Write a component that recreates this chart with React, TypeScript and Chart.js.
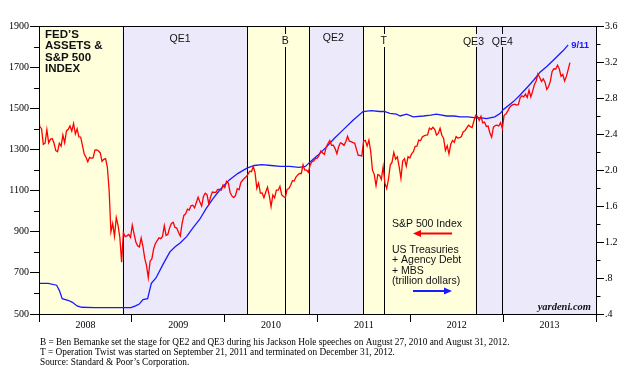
import React, { useEffect, useRef } from 'react';
import { Chart, registerables } from 'chart.js';

Chart.register(...registerables);

// ---------- DATA ----------
// S&P 500 weekly closes, first Friday = Dec 28, 2007
const spStart = [1478];
const sp2008 = [1411, 1401, 1325, 1331, 1396, 1332, 1349, 1353, 1331, 1294, 1289, 1330, 1316, 1370, 1332, 1390, 1398, 1414, 1389, 1426, 1375, 1400, 1361, 1360, 1318, 1278, 1262, 1240, 1261, 1257, 1260, 1297, 1298, 1292, 1283, 1242, 1252, 1255, 1213, 1099, 899, 940, 877, 969, 931, 873, 752, 896, 876, 880, 887, 873];
const sp2009 = [932, 890, 850, 832, 826, 869, 827, 770, 735, 677, 757, 768, 816, 843, 857, 870, 866, 877, 929, 882, 887, 919, 940, 946, 921, 918, 896, 879, 940, 979, 987, 1010, 1005, 1026, 1029, 1016, 1042, 1068, 1044, 1025, 1071, 1087, 1080, 1036, 1069, 1093, 1091, 1091, 1106, 1106, 1102, 1127];
const sp2010 = [1115, 1145, 1136, 1091, 1074, 1066, 1075, 1109, 1104, 1139, 1150, 1160, 1167, 1179, 1194, 1192, 1217, 1187, 1111, 1136, 1088, 1089, 1065, 1092, 1117, 1076, 1022, 1078, 1065, 1102, 1102, 1121, 1079, 1071, 1065, 1105, 1110, 1126, 1148, 1146, 1166, 1176, 1183, 1183, 1225, 1199, 1199, 1189, 1225, 1240, 1244, 1256, 1258];
const sp2011 = [1272, 1293, 1283, 1276, 1311, 1329, 1343, 1320, 1321, 1304, 1279, 1313, 1332, 1328, 1320, 1337, 1364, 1340, 1338, 1333, 1331, 1300, 1271, 1271, 1268, 1340, 1344, 1316, 1345, 1292, 1199, 1179, 1124, 1177, 1174, 1154, 1216, 1136, 1110, 1155, 1224, 1238, 1285, 1253, 1264, 1216, 1159, 1244, 1255, 1219, 1265, 1258];
const sp2012 = [1278, 1289, 1315, 1316, 1345, 1342, 1361, 1366, 1370, 1371, 1404, 1397, 1408, 1398, 1370, 1378, 1403, 1369, 1353, 1295, 1318, 1278, 1325, 1343, 1335, 1362, 1355, 1357, 1363, 1386, 1391, 1405, 1418, 1411, 1406, 1438, 1466, 1460, 1441, 1461, 1429, 1433, 1412, 1414, 1380, 1359, 1409, 1416, 1418, 1414, 1430, 1402];
const sp2013 = [1466, 1472, 1486, 1503, 1513, 1518, 1520, 1516, 1518, 1551, 1561, 1556, 1569, 1553, 1588, 1555, 1582, 1614, 1633, 1667, 1650, 1631, 1643, 1626, 1592, 1606, 1632, 1680, 1692, 1691, 1709, 1691, 1656, 1664, 1633, 1655, 1688, 1722];
const spFirstWeek = 2007 + 361 / 365; // Dec 28, 2007 as decimal year

// Fed holdings: US Treasuries + Agency Debt + MBS (trillion dollars)
const fedDates = [2008.00, 2008.10, 2008.19, 2008.22, 2008.25, 2008.32, 2008.36, 2008.41, 2008.46, 2008.60, 2008.80, 2008.99, 2009.04, 2009.08, 2009.12, 2009.17, 2009.21, 2009.26, 2009.34, 2009.41, 2009.47, 2009.52, 2009.59, 2009.66, 2009.73, 2009.80, 2009.88, 2009.95, 2010.05, 2010.14, 2010.24, 2010.32, 2010.40, 2010.50, 2010.60, 2010.70, 2010.80, 2010.87, 2010.92, 2011.00, 2011.10, 2011.18, 2011.27, 2011.38, 2011.49, 2011.58, 2011.67, 2011.72, 2011.78, 2011.85, 2011.89, 2011.96, 2012.03, 2012.14, 2012.22, 2012.28, 2012.39, 2012.47, 2012.54, 2012.62, 2012.71, 2012.77, 2012.82, 2012.91, 2012.97, 2013.00, 2013.06, 2013.11, 2013.18, 2013.26, 2013.33, 2013.40, 2013.47, 2013.54, 2013.60, 2013.65, 2013.70];
const fedVals = [0.74, 0.74, 0.72, 0.66, 0.57, 0.55, 0.53, 0.49, 0.475, 0.47, 0.47, 0.47, 0.49, 0.51, 0.56, 0.57, 0.74, 0.80, 0.96, 1.09, 1.15, 1.19, 1.26, 1.36, 1.45, 1.57, 1.69, 1.78, 1.89, 1.96, 2.02, 2.05, 2.06, 2.05, 2.04, 2.04, 2.03, 2.04, 2.09, 2.16, 2.26, 2.35, 2.44, 2.55, 2.65, 2.66, 2.65, 2.65, 2.63, 2.62, 2.60, 2.62, 2.59, 2.60, 2.61, 2.62, 2.60, 2.60, 2.59, 2.59, 2.58, 2.58, 2.57, 2.59, 2.63, 2.67, 2.72, 2.76, 2.83, 2.92, 3.00, 3.09, 3.15, 3.22, 3.28, 3.33, 3.39];
const fedLastLabel = '9/11';

// Policy events (decimal years)
const eventDates = [2008.90, 2010.24, 2010.652, 2010.913, 2011.49, 2011.714, 2012.703, 2012.99];
const eventLabels = ['QE1', 'B', 'QE2', 'T', 'QE3', 'QE4'];
const eventLabelX = [2009.52, 2010.652, 2011.17, 2011.714, 2012.68, 2012.99];
const eventLabelY = [39, 40.7, 38.3, 40.7, 41.7, 41.7];
const bandEdges = [2008, 2008.90, 2010.24, 2010.913, 2011.49, 2012.703, 2014];
const bandIsQE = [false, true, false, true, false, true];

const years = [2008, 2009, 2010, 2011, 2012, 2013];
const titleLines = ['FED\u2019S', 'ASSETS &', 'S&P 500', 'INDEX'];
const legendSp = 'S&P 500 Index';
const legendFed = ['US Treasuries', '+ Agency Debt', '+ MBS', '(trillion dollars)'];
const footnotes = [
  'B = Ben Bernanke set the stage for QE2 and QE3 during his Jackson Hole speeches on August 27, 2010 and August 31, 2012.',
  'T = Operation Twist was started on September 21, 2011 and terminated on December 31, 2012.',
  'Source: Standard & Poor\u2019s Corporation.',
];

// ---------- STYLE ----------
const YELLOW = '#FFFFDC';
const LAVENDER = '#ECE9FB';
const RED = '#FF0000';
const BLUE = '#1A1AFF';
const SANS = "'Liberation Sans', Arial, sans-serif";
const SERIF = "'Liberation Serif', 'Times New Roman', serif";

function buildSp() {
  const all = [...spStart, ...sp2008, ...sp2009, ...sp2010, ...sp2011, ...sp2012, ...sp2013];
  return all.map((v, i) => ({ x: spFirstWeek + (i * 7) / 365.25, y: v }));
}

function buildFed() {
  return fedDates.map((d, i) => ({ x: d, y: fedVals[i] }));
}

const decorPlugin = {
  id: 'decor',
  beforeDatasetsDraw(chart: any) {
    const { ctx, chartArea: a, scales } = chart;
    const x = scales.x;
    ctx.save();
    for (let i = 0; i < bandIsQE.length; i++) {
      const x0 = x.getPixelForValue(bandEdges[i]);
      const x1 = x.getPixelForValue(bandEdges[i + 1]);
      ctx.fillStyle = bandIsQE[i] ? LAVENDER : YELLOW;
      ctx.fillRect(x0, a.top, x1 - x0, a.bottom - a.top);
    }
    // vertical event lines, with gap for the labels sitting on them
    const labelled = new Set([2010.652, 2011.714, 2012.703, 2012.99]);
    ctx.strokeStyle = '#000';
    ctx.lineWidth = 1;
    for (const d of eventDates) {
      const px = Math.round(x.getPixelForValue(d)) + 0.5;
      ctx.beginPath();
      if (labelled.has(d)) {
        ctx.moveTo(px, a.top);
        ctx.lineTo(px, a.top + 8);
        ctx.moveTo(px, a.top + 21);
        ctx.lineTo(px, a.bottom);
      } else {
        ctx.moveTo(px, a.top);
        ctx.lineTo(px, a.bottom);
      }
      ctx.stroke();
    }
    // event labels
    ctx.fillStyle = '#111';
    ctx.font = `10.5px ${SANS}`;
    ctx.textAlign = 'center';
    ctx.textBaseline = 'middle';
    eventLabels.forEach((t, i) => {
      ctx.fillText(t, x.getPixelForValue(eventLabelX[i]), eventLabelY[i]);
    });
    // title
    ctx.textAlign = 'left';
    ctx.font = `bold 11.5px ${SANS}`;
    titleLines.forEach((t, i) => ctx.fillText(t, a.left + 6, a.top + 9 + i * 11.3));
    // legend
    ctx.font = `10.5px ${SANS}`;
    ctx.fillText(legendSp, 392, 224);
    legendFed.forEach((t, i) => ctx.fillText(t, 392, 250 + i * 10.4));
    ctx.restore();
  },
  afterDatasetsDraw(chart: any) {
    const { ctx, chartArea: a, scales } = chart;
    ctx.save();
    // arrows
    const arrow = (xTail: number, xTip: number, y: number, color: string) => {
      ctx.strokeStyle = color;
      ctx.fillStyle = color;
      ctx.lineWidth = 2;
      const dir = xTip > xTail ? 1 : -1;
      ctx.beginPath();
      ctx.moveTo(xTail, y);
      ctx.lineTo(xTip - dir * 6, y);
      ctx.stroke();
      ctx.beginPath();
      ctx.moveTo(xTip, y);
      ctx.lineTo(xTip - dir * 8, y - 3.5);
      ctx.lineTo(xTip - dir * 8, y + 3.5);
      ctx.closePath();
      ctx.fill();
    };
    arrow(452, 413, 233.5, RED);
    arrow(413, 452, 291, BLUE);
    // 9/11 label at the end of the Fed line
    const lx = scales.x.getPixelForValue(fedDates[fedDates.length - 1]);
    const ly = scales.y1.getPixelForValue(fedVals[fedVals.length - 1]);
    ctx.fillStyle = BLUE;
    ctx.font = `bold 9.5px ${SANS}`;
    ctx.textAlign = 'left';
    ctx.textBaseline = 'middle';
    ctx.fillText(fedLastLabel, lx + 3, ly);
    // yardeni.com
    ctx.fillStyle = '#111';
    ctx.font = `italic bold 10.5px ${SERIF}`;
    ctx.textAlign = 'right';
    ctx.fillText('yardeni.com', a.right - 5, a.bottom - 7);
    // border
    ctx.strokeStyle = '#000';
    ctx.lineWidth = 1;
    ctx.strokeRect(Math.round(a.left) + 0.5, Math.round(a.top) + 0.5, Math.round(a.right - a.left), Math.round(a.bottom - a.top));
    // minor ticks
    ctx.beginPath();
    for (let v = 600; v <= 1800; v += 200) {
      const py = Math.round(scales.y.getPixelForValue(v)) + 0.5;
      ctx.moveTo(a.left - 5, py);
      ctx.lineTo(a.left, py);
    }
    for (let k = 0; k < 8; k++) {
      const v = 0.6 + k * 0.4;
      const py = Math.round(scales.y1.getPixelForValue(v)) + 0.5;
      ctx.moveTo(a.right, py);
      ctx.lineTo(a.right + 4.5, py);
    }
    ctx.stroke();
    ctx.restore();
  },
  afterDraw(chart: any) {
    const { ctx } = chart;
    ctx.save();
    ctx.fillStyle = '#000';
    ctx.font = `9.3px ${SERIF}`;
    ctx.textAlign = 'left';
    ctx.textBaseline = 'middle';
    footnotes.forEach((t, i) => ctx.fillText(t, 40, 343 + i * 9.6));
    ctx.restore();
  },
};

export default function App() {
  const ref = useRef<HTMLCanvasElement | null>(null);
  useEffect(() => {
    if (!ref.current) return;
    const tickFont = { family: SERIF, size: 10 };
    const chart = new Chart(ref.current, {
      type: 'line',
      data: {
        datasets: [
          {
            label: 'S&P 500 Index',
            data: buildSp(),
            yAxisID: 'y',
            borderColor: RED,
            borderWidth: 1.3,
            pointRadius: 0,
            tension: 0,
            order: 1,
          },
          {
            label: 'US Treasuries + Agency Debt + MBS',
            data: buildFed(),
            yAxisID: 'y1',
            borderColor: BLUE,
            borderWidth: 1.3,
            pointRadius: 0,
            tension: 0,
            order: 2,
          },
        ],
      },
      options: {
        responsive: false,
        maintainAspectRatio: false,
        animation: false,
        devicePixelRatio: 1,
        layout: { padding: { top: 26, bottom: 39, left: 0, right: 0 } },
        plugins: { legend: { display: false }, tooltip: { enabled: false } },
        scales: {
          x: {
            type: 'linear',
            min: 2008,
            max: 2014,
            afterFit: (s: any) => { s.height = 20; },
            border: { display: true, color: '#000', width: 1 },
            grid: {
              drawOnChartArea: false,
              drawTicks: true,
              tickLength: 8,
              tickColor: (c: any) => (c.tick && Math.abs(c.tick.value - Math.round(c.tick.value)) < 1e-6 ? '#000' : 'rgba(0,0,0,0)'),
            },
            ticks: {
              stepSize: 0.5,
              autoSkip: false,
              maxRotation: 0,
              padding: -3,
              color: '#000',
              font: tickFont,
              callback: (v: any) => {
                const n = Number(v);
                const yr = Math.floor(n);
                return Math.abs(n - yr - 0.5) < 1e-6 && years.includes(yr) ? String(yr) : '';
              },
            },
          },
          y: {
            type: 'linear',
            position: 'left',
            min: 500,
            max: 1900,
            afterFit: (s: any) => { s.width = 39; },
            border: { display: true, color: '#000', width: 1 },
            grid: { drawOnChartArea: false, drawTicks: true, tickLength: 9, tickColor: '#000' },
            ticks: {
              stepSize: 200,
              autoSkip: false,
              padding: 1,
              color: '#000',
              font: tickFont,
              callback: (v: any) => String(Math.round(Number(v))),
            },
          },
          y1: {
            type: 'linear',
            position: 'right',
            min: 0.4,
            max: 3.6,
            afterFit: (s: any) => { s.width = 47; },
            border: { display: true, color: '#000', width: 1 },
            grid: { drawOnChartArea: false, drawTicks: true, tickLength: 8, tickColor: '#000' },
            ticks: {
              stepSize: 0.4,
              autoSkip: false,
              padding: 1,
              color: '#000',
              font: tickFont,
              callback: (v: any) => {
                const s = Number(v).toFixed(1);
                return s.startsWith('0') ? s.slice(1) : s;
              },
            },
          },
        },
      },
      plugins: [decorPlugin],
    });
    return () => chart.destroy();
  }, []);
  return (
    <div style={{ position: 'absolute', left: 0, top: 0, width: 643, height: 373, background: '#fff' }}>
      <canvas ref={ref} width={643} height={373} style={{ display: 'block' }} />
    </div>
  );
}
